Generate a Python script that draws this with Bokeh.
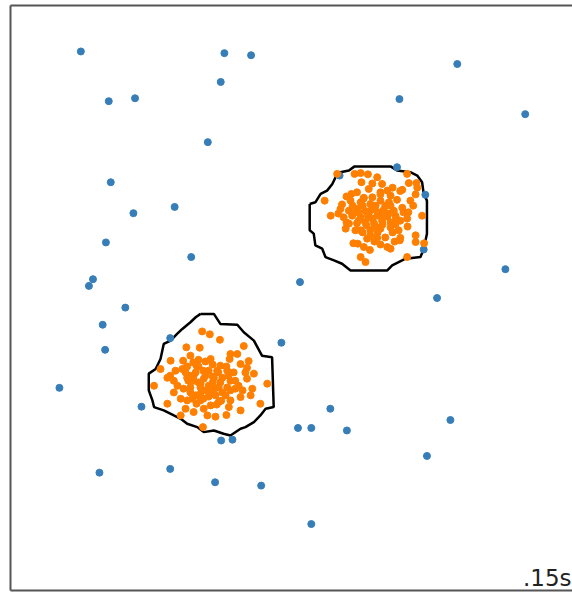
from bokeh.plotting import figure
from bokeh.models import Range1d, LinearAxis, FixedTicker, Label
from bokeh.embed import file_html
from bokeh.resources import INLINE

# ---- data (in data units) ----
outlier_x = [-5.26, -1.71, -1.05, -1.80, -4.57, -3.92, -2.12, -4.52, -2.94, -3.96,
             -4.64, -2.53, -4.96, -5.06, 0.16, 4.05, 2.62, 5.73, 2.56, 3.26,
             3.22, 5.24, 3.55, 1.14, -4.16, -4.72, -4.66, -5.79, -3.76, -3.05,
             -0.30, 0.11, -1.79, -1.51, -4.80, -3.05, -1.94, -0.80, 0.91, 0.44,
             1.32, 3.88, 3.30, 0.44]
outlier_y = [5.90, 5.86, 5.81, 5.17, 4.71, 4.78, 3.73, 2.77, 2.18, 2.03,
             1.33, 0.98, 0.45, 0.29, 0.38, 5.60, 4.76, 4.40, 3.13, 2.47,
             1.16, 0.69, 0.00, 2.93, -0.23, -0.64, -1.24, -2.15, -2.60, -0.96,
             -1.07, -3.11, -3.41, -3.39, -4.18, -4.09, -4.41, -4.49, -2.65, -3.11,
             -3.17, -2.92, -3.78, -5.41]

inlier_a_x = [1.08, 1.51, 1.66, 1.84, 2.07, 2.81, 1.68, 2.19, 2.85, 3.04,
              2.69, 1.86, 2.15, 1.43, 1.57, 1.74, 1.95, 2.15, 2.40, 2.64,
              3.02, 0.77, 1.20, 1.41, 1.66, 1.90, 2.15, 2.36, 2.56, 2.96,
              1.16, 1.37, 1.57, 1.78, 1.99, 2.23, 2.48, 2.69, 1.24, 1.45,
              1.66, 1.84, 2.07, 2.32, 2.52, 2.81, 3.18, 1.37, 1.57, 1.78,
              1.99, 2.19, 2.40, 2.64, 1.66, 1.90, 2.15, 2.40, 2.60, 1.82,
              2.07, 2.27, 2.64, 3.02, 1.59, 1.74, 2.32, 2.63, 3.02, 1.89,
              2.40, 1.66, 1.78, 2.81, 1.71, 1.85, 2.03, 2.10, 2.27, 1.95,
              1.80, 2.20, 2.35, 1.61, 1.90, 1.46, 1.31, 2.45, 2.52, 2.72,
              2.82, 2.89, 1.53, 2.00, 2.50, 2.15, 1.29, 1.11, 0.92, 1.31,
              2.45, 1.95, 2.32, 2.84, 3.06, 3.23, 1.48, 1.61, 2.03, 2.25,
              1.71, 2.40, 1.48, 2.08, 2.54, 1.90, 1.73]
inlier_a_y = [2.97, 2.97, 2.99, 2.96, 2.89, 2.97, 2.77, 2.73, 2.75, 2.75,
              2.59, 2.61, 2.53, 2.49, 2.53, 2.40, 2.41, 2.48, 2.45, 2.56,
              2.48, 2.33, 2.24, 2.33, 2.29, 2.25, 2.33, 2.29, 2.35, 2.21,
              2.13, 2.09, 2.13, 2.08, 2.13, 2.11, 2.09, 2.16, 1.93, 1.97,
              1.93, 1.95, 1.97, 1.95, 1.97, 1.90, 1.97, 1.78, 1.79, 1.81,
              1.79, 1.85, 1.81, 1.85, 1.62, 1.63, 1.66, 1.69, 1.62, 1.42,
              1.44, 1.45, 1.44, 1.50, 1.30, 1.22, 1.22, 1.38, 1.34, 1.15,
              1.18, 0.98, 0.86, 0.98, 2.21, 2.02, 2.21, 2.05, 2.21, 1.90,
              1.74, 1.76, 2.02, 2.05, 1.50, 2.21, 1.81, 1.57, 1.76, 2.05,
              1.71, 2.33, 1.62, 1.35, 1.35, 1.28, 1.66, 2.02, 1.97, 2.43,
              2.64, 2.74, 2.57, 2.05, 2.64, 1.31, 1.31, 1.85, 1.71, 1.95,
              1.57, 2.21, 2.02, 1.57, 1.90, 2.09, 2.38]

inlier_b_x = [-2.26, -2.07, -1.82, -2.65, -2.32, -1.23, -1.56, -1.39, -2.55, -2.73,
              -2.48, -2.05, -2.00, -1.58, -1.31, -1.11, -1.15, -3.29, -2.92, -2.75,
              -2.63, -2.23, -1.89, -1.64, -1.48, -1.19, -0.98, -3.12, -2.96, -2.63,
              -2.47, -2.22, -1.97, -1.76, -1.56, -1.15, -3.45, -2.55, -2.30, -2.10,
              -1.85, -1.64, -1.44, -0.65, -2.96, -2.55, -2.30, -2.05, -1.31, -3.12,
              -2.63, -2.30, -1.85, -1.60, -0.82, -2.67, -2.47, -2.22, -2.13, -1.93,
              -1.66, -2.79, -2.24, -2.47, -3.05, -1.79, -2.35, -2.18, -2.42, -2.18,
              -2.35, -2.00, -2.15, -2.42, -1.93, -1.76, -2.60, -2.23, -2.05, -2.40,
              -1.86, -1.61, -2.72, -2.87, -1.44, -1.36, -1.26, -2.55, -1.95, -1.68,
              -1.56, -2.10, -1.81, -2.40, -2.79, -3.04, -1.02, -1.31, -1.06, -2.30,
              -2.10, -2.50, -1.81, -1.90, -1.56, -2.67, -2.35, -1.66, -2.00]
inlier_b_y = [-0.80, -0.87, -1.00, -1.18, -1.19, -1.15, -1.34, -1.34, -1.38, -1.50,
              -1.54, -1.46, -1.59, -1.46, -1.58, -1.51, -1.67, -1.70, -1.74, -1.70,
              -1.64, -1.74, -1.74, -1.74, -1.78, -1.78, -1.81, -1.91, -1.98, -1.91,
              -1.98, -1.93, -1.91, -1.91, -1.98, -1.93, -2.10, -2.14, -2.14, -2.10,
              -2.14, -2.14, -2.17, -2.05, -2.26, -2.26, -2.29, -2.26, -2.37, -2.53,
              -2.45, -2.45, -2.49, -2.61, -2.53, -2.65, -2.73, -2.65, -2.81, -2.84,
              -2.80, -2.81, -3.09, -1.86, -1.86, -2.46, -1.48, -1.52, -1.78, -1.86,
              -2.02, -2.02, -2.21, -2.33, -2.33, -2.26, -1.98, -2.41, -2.57, -2.53,
              -1.78, -1.86, -2.17, -2.10, -1.98, -2.10, -2.21, -1.86, -2.17, -2.33,
              -2.45, -1.74, -1.62, -1.62, -2.41, -1.50, -2.17, -2.69, -2.33, -2.05,
              -2.36, -2.41, -2.02, -2.55, -2.21, -1.78, -1.64, -1.64, -1.88]

contour_a_x = [0.40, 0.40, 0.50, 0.54, 0.71, 0.79, 1.00, 1.20, 1.41, 2.32,
               2.44, 2.60, 2.77, 3.14, 3.22, 3.30, 3.30, 3.22, 3.18, 3.06,
               2.89, 2.56, 2.40, 1.51, 1.37, 1.16, 1.04, 0.96, 0.83, 0.67,
               0.54, 0.40]
contour_a_y = [2.25, 1.62, 1.54, 1.26, 1.18, 0.98, 0.90, 0.82, 0.66, 0.66,
               0.78, 0.86, 0.94, 0.98, 1.18, 1.54, 2.33, 2.49, 2.77, 2.93,
               3.01, 3.05, 3.15, 3.15, 3.05, 3.01, 2.89, 2.73, 2.57, 2.49,
               2.29, 2.25]

contour_b_x = [-2.30, -1.97, -1.81, -1.39, -1.23, -0.98, -0.78, -0.53, -0.49, -0.69,
               -0.82, -0.98, -1.19, -1.31, -1.56, -1.73, -1.97, -2.22, -2.38, -2.63,
               -2.79, -2.96, -3.21, -3.45, -3.49, -3.58, -3.58, -3.41, -3.29, -3.21,
               -3.04, -2.88, -2.75, -2.55, -2.42, -2.30]
contour_b_y = [-0.38, -0.38, -0.62, -0.64, -0.82, -1.02, -1.38, -1.42, -2.61, -2.65,
               -2.81, -2.97, -3.09, -3.13, -3.29, -3.25, -3.17, -3.21, -3.09, -3.01,
               -2.89, -2.81, -2.69, -2.61, -2.45, -2.21, -1.81, -1.70, -1.46, -1.10,
               -1.02, -0.86, -0.74, -0.58, -0.46, -0.38]

time_text = ".15s"

BLUE = "#377eb8"
ORANGE = "#ff7f00"

p = figure(width=572, height=592, output_backend="svg", toolbar_location=None,
           x_range=Range1d(-7, 6.90), y_range=Range1d(-7, 7),
           x_axis_location=None, y_axis_location=None,
           min_border_left=10, min_border_right=0, min_border_top=5, min_border_bottom=2)
p.grid.visible = False
p.outline_line_color = None
p.background_fill_color = "white"
p.border_fill_color = "white"


def border_axis():
    ax = LinearAxis(ticker=FixedTicker(ticks=[]))
    ax.axis_line_color = "#555555"
    ax.axis_line_width = 2
    ax.major_tick_in = 0
    ax.major_tick_out = 0
    ax.minor_tick_in = 0
    ax.minor_tick_out = 0
    ax.major_label_text_font_size = "0px"
    ax.major_label_standoff = 0
    return ax


p.add_layout(border_axis(), "left")
p.add_layout(border_axis(), "above")
p.add_layout(border_axis(), "below")

p.line(contour_a_x, contour_a_y, line_color="black", line_width=2.5)
p.line(contour_b_x, contour_b_y, line_color="black", line_width=2.5)

p.scatter(outlier_x, outlier_y, size=7, fill_color=BLUE, line_color=BLUE)
p.scatter(inlier_a_x, inlier_a_y, size=7, fill_color=ORANGE, line_color=ORANGE)
p.scatter(inlier_b_x, inlier_b_y, size=7, fill_color=ORANGE, line_color=ORANGE)

lbl = Label(x=6.90, y=-7, text=time_text, text_align="right", text_baseline="bottom",
            x_offset=-1, y_offset=0, text_font="DejaVu Sans", text_font_size="23px",
            text_color="#222222")
p.add_layout(lbl)

open("out.html", "w").write(file_html(p, INLINE))
